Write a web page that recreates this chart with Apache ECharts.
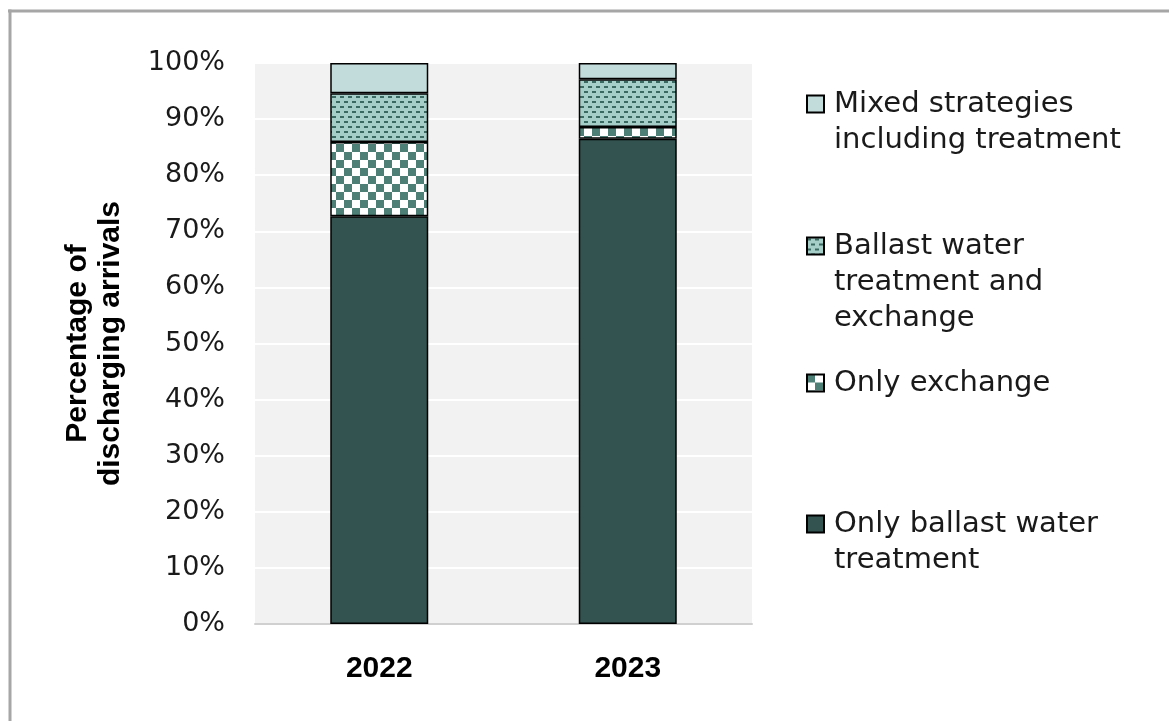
<!DOCTYPE html>
<html>
<head>
<meta charset="utf-8">
<script src="https://cdn.jsdelivr.net/npm/echarts@6/dist/echarts.min.js"></script>
<style>
html,body{margin:0;padding:0;background:#fff;}
#chart{width:1169px;height:721px;}
</style>
</head>
<body>
<div id="chart"></div>
<script>
const categories = ['2022', '2023'];
const onlyTreatment = [72.7, 86.5];
const onlyExchange = [13.2, 2.1];
const treatmentAndExchange = [8.7, 8.5];
const mixedStrategies = [5.4, 2.9];
const yTicks = [0, 10, 20, 30, 40, 50, 60, 70, 80, 90, 100];

const names = {
  mixed: 'Mixed strategies including treatment',
  te: 'Ballast water treatment and exchange',
  ex: 'Only exchange',
  tr: 'Only ballast water treatment'
};
const legendLines = {};
legendLines[names.mixed] = ['Mixed strategies', 'including treatment'];
legendLines[names.te] = ['Ballast water', 'treatment and', 'exchange'];
legendLines[names.ex] = ['Only exchange'];
legendLines[names.tr] = ['Only ballast water', 'treatment'];

function checker() {
  const c = document.createElement('canvas');
  c.width = 16; c.height = 16;
  const g = c.getContext('2d');
  g.fillStyle = '#ffffff'; g.fillRect(0, 0, 16, 16);
  g.fillStyle = '#4d7f77';
  g.fillRect(0, 0, 8, 8); g.fillRect(8, 8, 8, 8);
  return c;
}
function dashes() {
  const c = document.createElement('canvas');
  c.width = 8; c.height = 10;
  const g = c.getContext('2d');
  g.fillStyle = '#a5cec9'; g.fillRect(0, 0, 8, 10);
  g.fillStyle = '#3a6962';
  g.fillRect(0, 1, 4, 2); g.fillRect(4, 6, 4, 2);
  return c;
}

const chart = echarts.init(document.getElementById('chart'), null, {renderer: 'canvas'});
const border = {borderColor: '#000', borderWidth: 1.5};
const font = 'DejaVu Sans';
const L = 36;
function legendAt(name, centerY) {
  const lines = legendLines[name];
  const n = lines.length;
  const pad = [];
  for (let i = 1; i < n; i++) pad.push(' ');
  return {
    data: [{name: name, icon: 'rect'}],
    left: 806,
    top: centerY - (2 * n - 1) * L / 2,
    orient: 'vertical',
    padding: 0,
    itemWidth: 17,
    itemHeight: 17,
    selectedMode: false,
    formatter: () => pad.concat(lines).join('\n'),
    textStyle: {fontFamily: font, fontSize: 29, color: '#1a1a1a', lineHeight: L, padding: [0, 0, 0, 5]}
  };
}

chart.setOption({
  animation: false,
  backgroundColor: '#ffffff',
  graphic: [
    {type: 'line', shape: {x1: 8, y1: 11, x2: 1169, y2: 11}, style: {stroke: '#a6a6a6', lineWidth: 3}},
    {type: 'line', shape: {x1: 10, y1: 9.5, x2: 10, y2: 721}, style: {stroke: '#a6a6a6', lineWidth: 3}}
  ],
  grid: {
    left: 255, right: 417, top: 63, bottom: 97,
    show: true, backgroundColor: '#f2f2f2', borderWidth: 0
  },
  legend: [
    legendAt(names.mixed, 104),
    legendAt(names.te, 246),
    legendAt(names.ex, 383),
    legendAt(names.tr, 524)
  ],
  xAxis: {
    type: 'category',
    data: categories,
    axisTick: {show: false},
    axisLine: {show: true, lineStyle: {color: '#d0d0d0', width: 2}},
    axisLabel: {fontFamily: 'Liberation Sans', fontWeight: 'bold', fontSize: 30, color: '#000', margin: 30}
  },
  yAxis: {
    type: 'value',
    min: 0, max: 100, interval: 10,
    name: 'Percentage of\ndischarging arrivals',
    nameLocation: 'middle',
    nameRotate: 90,
    nameGap: 128,
    nameTextStyle: {fontFamily: 'Liberation Sans', fontWeight: 'bold', fontSize: 30, color: '#000', lineHeight: 33},
    axisLine: {show: false},
    axisTick: {show: false},
    splitLine: {lineStyle: {color: '#ffffff', width: 2}},
    axisLabel: {
      fontFamily: font, fontSize: 27, color: '#1a1a1a', margin: 30,
      formatter: v => yTicks.indexOf(v) >= 0 ? v + '%' : ''
    }
  },
  series: [
    {name: names.tr, type: 'bar', stack: 's', barWidth: 98, data: onlyTreatment,
     itemStyle: Object.assign({color: '#32534f'}, border)},
    {name: names.ex, type: 'bar', stack: 's', barWidth: 98, data: onlyExchange,
     itemStyle: Object.assign({color: {image: checker(), repeat: 'repeat'}}, border)},
    {name: names.te, type: 'bar', stack: 's', barWidth: 98, data: treatmentAndExchange,
     itemStyle: Object.assign({color: {image: dashes(), repeat: 'repeat'}}, border)},
    {name: names.mixed, type: 'bar', stack: 's', barWidth: 98, data: mixedStrategies,
     itemStyle: Object.assign({color: '#c2dcdb'}, border)}
  ]
});
</script>
</body>
</html>
